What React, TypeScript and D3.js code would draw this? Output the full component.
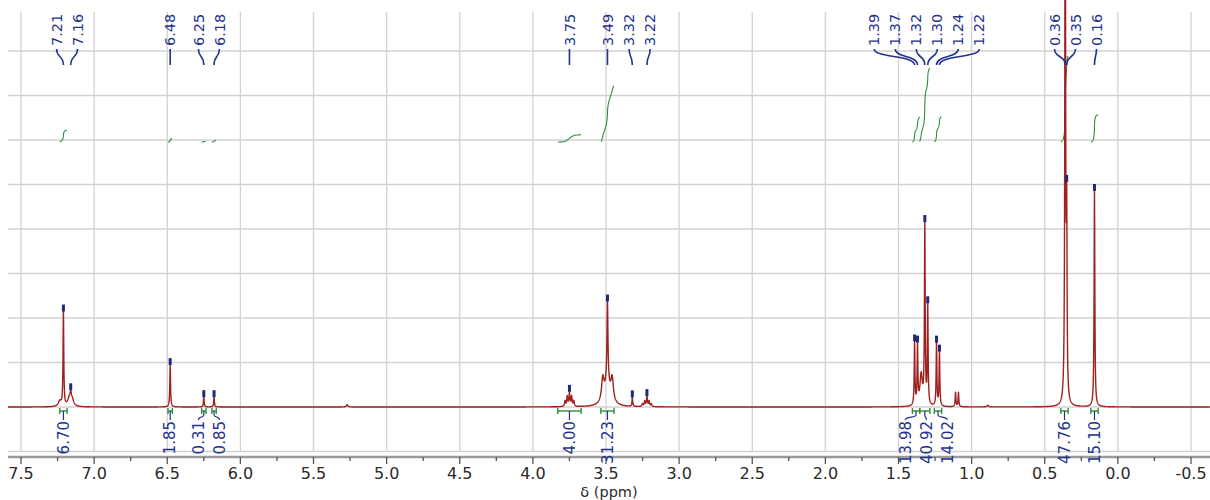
import React from 'react';
import * as d3 from 'd3';

const W = 1210;
const H = 500;

// Spectrum peaks: chemical shift (ppm), height (intensity units), half width at half height (ppm)
const peakPpm = [7.235, 7.21, 7.17, 7.16, 7.15, 6.48, 6.25, 6.18, 5.27, 3.78, 3.765, 3.75, 3.735, 3.72, 3.522, 3.49, 3.49, 3.458, 3.32, 3.25, 3.235, 3.22, 3.205, 3.19, 1.39, 1.37, 1.345, 1.32, 1.30, 1.24, 1.22, 1.11, 1.09, 0.89, 0.36, 0.35, 0.16];
const peakHeight = [0.12, 2.1, 0.18, 0.17, 0.15, 0.94, 0.22, 0.22, 0.05, 0.12, 0.22, 0.3, 0.22, 0.12, 0.5, 0.48, 1.8, 0.5, 0.2, 0.06, 0.12, 0.22, 0.12, 0.06, 1.4, 1.3, 0.7, 4.0, 2.2, 1.4, 1.2, 0.32, 0.32, 0.04, 14, 3.9, 4.85];
const peakWidth = [0.012, 0.003, 0.012, 0.005, 0.012, 0.003, 0.003, 0.003, 0.006, 0.004, 0.004, 0.004, 0.004, 0.004, 0.01, 0.025, 0.004, 0.01, 0.003, 0.004, 0.004, 0.004, 0.004, 0.004, 0.003, 0.003, 0.01, 0.003, 0.003, 0.003, 0.003, 0.003, 0.003, 0.006, 0.003, 0.003, 0.003];

// Peak labels (top)
const peakLabels = [7.21, 7.16, 6.48, 6.25, 6.18, 3.75, 3.49, 3.32, 3.22, 1.39, 1.37, 1.32, 1.30, 1.24, 1.22, 0.36, 0.35, 0.16];

// Integrals
const integralFrom = [7.235, 6.495, 6.265, 6.195, 3.83, 3.535, 1.405, 1.355, 1.255, 0.39, 0.185];
const integralTo = [7.185, 6.465, 6.235, 6.165, 3.67, 3.445, 1.355, 1.285, 1.205, 0.34, 0.135];
const integralValue = [6.70, 1.85, 0.31, 0.85, 4.00, 31.23, 13.98, 40.92, 14.02, 47.76, 15.10];

// Axis ticks
const majorTicks = [7.5, 7.0, 6.5, 6.0, 5.5, 5.0, 4.5, 4.0, 3.5, 3.0, 2.5, 2.0, 1.5, 1.0, 0.5, 0.0, -0.5];
const gridValues = [-1, 0, 1, 2, 3, 4, 5, 6, 7, 8];

const LABEL_BLUE = '#24328c';
const GREEN = '#2f8f3c';
const RED = '#a0201f';
const FONT = 'DejaVu Sans, Verdana, sans-serif';

function spectrum(x: number): number {
  let s = 0;
  for (let i = 0; i < peakPpm.length; i++) {
    const d = (x - peakPpm[i]) / peakWidth[i];
    s += peakHeight[i] / (1 + d * d);
  }
  return s;
}

function spread(xs: number[], gap: number): number[] {
  const order = xs.map((_, i) => i).sort((a, b) => xs[a] - xs[b]);
  let groups = order.map((i) => ({ idx: [i], center: xs[i] }));
  let changed = true;
  while (changed) {
    changed = false;
    for (let g = 0; g < groups.length - 1; g++) {
      const a = groups[g];
      const b = groups[g + 1];
      const aEnd = a.center + ((a.idx.length - 1) * gap) / 2;
      const bStart = b.center - ((b.idx.length - 1) * gap) / 2;
      if (bStart - aEnd < gap) {
        const idx = a.idx.concat(b.idx);
        const center = d3.mean(idx, (i) => xs[i]) as number;
        groups.splice(g, 2, { idx, center });
        changed = true;
        break;
      }
    }
  }
  const out: number[] = new Array(xs.length);
  groups.forEach((g) =>
    g.idx.forEach((i, k) => {
      out[i] = g.center + (k - (g.idx.length - 1) / 2) * gap;
    })
  );
  return out;
}

export default function App() {
  const plotLeft = 8;
  const plotRight = W;
  const plotTop = 12;
  const axisY = 457;

  const x = d3.scaleLinear().domain([7.5, -0.5]).range([21, 1191]);
  const y = d3.scaleLinear().domain([-1, 8.876]).range([451.5, 12]);

  // sample grid
  const pStart = x.invert(plotLeft);
  const pEnd = x.invert(plotRight);
  const samples: number[] = [];
  for (let p = pStart; p >= pEnd; p -= 0.001) samples.push(p);
  peakPpm.forEach((p) => samples.push(p));
  samples.sort((a, b) => b - a);
  const pts: [number, number][] = samples.map((p) => [p, spectrum(p)]);

  const line = d3
    .line<[number, number]>()
    .x((d) => x(d[0]))
    .y((d) => y(d[1]));
  const specPath = line(pts) || '';

  // integral curves
  const intBase = 5.955; // intensity units
  const intScale = 0.0405; // intensity units per integral unit
  const integralPaths = integralValue.map((v, k) => {
    const a = integralFrom[k];
    const b = integralTo[k];
    const sub = pts.filter((d) => d[0] <= a && d[0] >= b);
    const total = d3.sum(sub, (d) => d[1]);
    let cum = 0;
    const cp: [number, number][] = sub.map((d) => {
      cum += d[1];
      return [d[0], intBase + (cum / total) * v * intScale];
    });
    return line(cp) || '';
  });

  // label layout
  const peakXs = peakLabels.map((p) => x(p));
  const labelXs = spread(peakXs, 21);
  const intCenters = integralValue.map((_, k) => x((integralFrom[k] + integralTo[k]) / 2));
  const intLabelXs = spread(intCenters, 21);

  const minorTicks = d3.range(7.75, -0.76, -0.25).filter((v) => Math.abs((v * 2) % 1) > 0.01);

  return (
    <svg
      width={W}
      height={H}
      style={{ position: 'absolute', left: 0, top: 0, display: 'block', background: '#fff' }}
      fontFamily={FONT}
    >
      <defs>
        <clipPath id="plotclip">
          <rect x={plotLeft} y={0} width={plotRight - plotLeft} height={axisY - 3} />
        </clipPath>
      </defs>
      <rect x={0} y={0} width={W} height={H} fill="#fff" />
      {/* grid */}
      <g stroke="#d2d2d2" strokeWidth={1.3}>
        {gridValues.map((g) => (
          <line key={'h' + g} x1={plotLeft} x2={plotRight} y1={y(g)} y2={y(g)} />
        ))}
        {majorTicks.map((t) => (
          <line key={'v' + t} x1={x(t)} x2={x(t)} y1={plotTop} y2={y(-1)} />
        ))}
      </g>
      {/* axis */}
      <line x1={plotLeft} x2={plotRight} y1={axisY} y2={axisY} stroke="#9a9a9a" strokeWidth={2.5} />
      <g stroke="#555" strokeWidth={1.3}>
        {majorTicks.map((t) => (
          <line key={'mt' + t} x1={x(t)} x2={x(t)} y1={axisY} y2={axisY + 7} />
        ))}
        {minorTicks.map((t) => (
          <line key={'mi' + t} x1={x(t)} x2={x(t)} y1={axisY} y2={axisY + 4} />
        ))}
      </g>
      <g fill="#2a2a2a" fontSize={16} textAnchor="middle">
        {majorTicks.map((t) => (
          <text key={'tl' + t} x={x(t)} y={479}>
            {t.toFixed(1)}
          </text>
        ))}
        <text x={(plotLeft + plotRight) / 2} y={496.5} fontSize={14.5}>
          δ (ppm)
        </text>
      </g>

      {/* integral curves */}
      <g fill="none" stroke={GREEN} strokeWidth={1.1}>
        {integralPaths.map((d, k) => (
          <path key={'ic' + k} d={d} />
        ))}
      </g>

      {/* spectrum */}
      <g clipPath="url(#plotclip)">
        <path d={specPath} fill="none" stroke={RED} strokeWidth={1.4} strokeLinejoin="round" />
      </g>

      {/* peak markers */}
      <g fill="#1f2a78">
        {peakLabels.map((p, i) => {
          const ty = Math.max(y(spectrum(p)), -20);
          return <rect key={'pm' + i} x={x(p) - 1.5} y={ty - 7} width={3} height={7} />;
        })}
      </g>

      {/* top labels */}
      <g fill={LABEL_BLUE} fontSize={14.5}>
        {peakLabels.map((p, i) => (
          <text
            key={'pl' + i}
            transform={`translate(${labelXs[i]},46) rotate(-90)`}
            textAnchor="start"
            dy="0.35em"
          >
            {p.toFixed(2)}
          </text>
        ))}
      </g>
      <g fill="none" stroke={LABEL_BLUE} strokeWidth={1.6}>
        {peakLabels.map((p, i) => {
          const lx = labelXs[i];
          const px = peakXs[i];
          return <path key={'pc' + i} d={`M${lx},49 C${lx},58 ${px},55 ${px},65`} />;
        })}
      </g>

      {/* integral bars */}
      <g stroke={GREEN} strokeWidth={1.4} fill="none">
        {integralValue.map((_, k) => {
          const x1 = x(integralFrom[k]);
          const x2 = x(integralTo[k]);
          return (
            <g key={'ib' + k}>
              <line x1={x1} x2={x2} y1={411} y2={411} />
              <line x1={x1} x2={x1} y1={408} y2={414} />
              <line x1={x2} x2={x2} y1={408} y2={414} />
            </g>
          );
        })}
      </g>
      <g stroke={LABEL_BLUE} strokeWidth={1.2} fill="none">
        {integralValue.map((_, k) => {
          const cx = intCenters[k];
          const lx = intLabelXs[k];
          return <path key={'il' + k} d={`M${cx},411 L${cx},415 C${cx},418 ${lx},416 ${lx},420`} />;
        })}
      </g>
      <g fill={LABEL_BLUE} fontSize={15}>
        {integralValue.map((v, k) => (
          <text
            key={'it' + k}
            transform={`translate(${intLabelXs[k]},421) rotate(-90)`}
            textAnchor="end"
            dy="0.35em"
          >
            {v.toFixed(2)}
          </text>
        ))}
      </g>
    </svg>
  );
}
